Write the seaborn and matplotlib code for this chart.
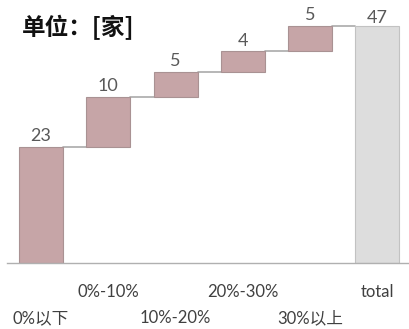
import numpy as np
import pandas as pd
import matplotlib
matplotlib.use("Agg")
import matplotlib.pyplot as plt
import seaborn as sns

# 数据
categories = ["0%以下", "0%-10%", "10%-20%", "20%-30%", "30%以上", "total"]
steps = [23, 10, 5, 4, 5]
total = 47

sns.set_style("white")
plt.rcParams['font.family'] = ['Lato', 'Noto Sans CJK SC', 'DejaVu Sans']

bottoms = np.concatenate([[0], np.cumsum(steps)[:-1]])
tops = np.cumsum(steps)
df_steps = pd.DataFrame({"cat": categories[:-1], "val": steps})
df_total = pd.DataFrame({"cat": [categories[-1]], "val": [total]})

fig = plt.figure(figsize=(4.09, 3.29), dpi=100)
ax = fig.add_axes([7 / 409, 66 / 329, 402 / 409, 263 / 329])

sns.barplot(data=df_steps, x="cat", y="val", order=categories, bottom=bottoms,
            color="#c6a5a7", saturation=1, edgecolor="#a99293", linewidth=0.8,
            width=0.655, errorbar=None, ax=ax)
sns.barplot(data=df_total, x="cat", y="val", order=categories,
            color="#dddddd", saturation=1, edgecolor="#c2c2c2", linewidth=0.8,
            width=0.655, errorbar=None, ax=ax)

ax.bar_label(ax.containers[0], labels=[str(v) for v in steps], padding=2,
             fontsize=13, color="#595959")
ax.bar_label(ax.containers[1], labels=[str(total)], padding=0,
             fontsize=13, color="#595959")

# 连接线
levels = list(tops)
for i in range(len(levels)):
    ax.plot([i + 0.3275, i + 1 - 0.3275], [levels[i], levels[i]],
            color="#aaaaaa", lw=1.2, zorder=0)

ax.set_xlim(-0.505, 5.47)
ax.set_ylim(0, 52.2)
ax.set_xlabel("")
ax.set_ylabel("")
ax.set_yticks([])
ax.tick_params(axis="x", length=0, labelsize=12, colors="#404040")
for i, tick in enumerate(ax.xaxis.get_major_ticks()):
    tick.set_pad(34 if i % 2 == 0 else 15)

for s in ["top", "left", "right"]:
    ax.spines[s].set_visible(False)
ax.spines["bottom"].set_color("#b0b0b0")
ax.spines["bottom"].set_linewidth(1.0)

fig.text(22 / 409, 1 - 27 / 329, "单位：[家]", fontsize=17, fontweight="bold",
         va="center", ha="left", color="#111111",
         family=['Noto Sans CJK SC', 'DejaVu Sans'])

fig.savefig("out.png", dpi=100)
